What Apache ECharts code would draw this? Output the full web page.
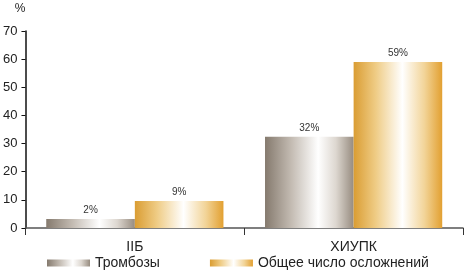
<!DOCTYPE html>
<html><head><meta charset="utf-8">
<script src="https://cdn.jsdelivr.net/npm/echarts@6/dist/echarts.min.js"></script>
<style>html,body{margin:0;padding:0;background:#fff}#c{width:469px;height:273px}</style>
</head><body><div id="c"></div>
<script>
const categories = ['IIБ', 'ХИУПК'];
const seriesNames = ['Тромбозы', 'Общее число осложнений'];
const thrombosis = [3.2, 32.4];
const totalComplications = [9.6, 59];
const thrombosisLabels = ['2%', '32%'];
const totalLabels = ['9%', '59%'];
const yTicks = [0, 10, 20, 30, 40, 50, 60, 70];

const FONT = '"Liberation Sans", Arial, sans-serif';
function grad(stops) {
  return new echarts.graphic.LinearGradient(0, 0, 1, 0, stops.map(c => ({offset: c[0], color: c[1]})));
}
const grayGrad = grad([[0, '#857a6e'], [0.3, '#c4bcb3'], [0.6, '#ffffff'], [0.8, '#ddd7d0'], [1, '#978c80']]);
const goldGrad = grad([[0, '#da9d33'], [0.25, '#efcc85'], [0.55, '#ffffff'], [0.8, '#f2d498'], [1, '#e2a031']]);

const chart = echarts.init(document.getElementById('c'));
chart.setOption({
  animation: false,
  grid: {left: 24, right: 6, top: 31, bottom: 45},
  legend: {
    top: 256, left: 47, padding: 0, itemWidth: 43, itemHeight: 7, itemGap: 50,
    icon: 'rect',
    textStyle: {fontFamily: FONT, fontSize: 14, color: '#222', padding: [0, 0, 0, 0]},
    data: seriesNames
  },
  xAxis: {
    type: 'category', data: categories,
    axisLine: {lineStyle: {color: '#555', width: 1.5}},
    axisTick: {show: true, length: 7, lineStyle: {color: '#333'}},
    axisLabel: {fontFamily: FONT, fontSize: 14, color: '#222', margin: 12}
  },
  yAxis: {
    type: 'value', min: yTicks[0], max: yTicks[yTicks.length - 1], interval: 10,
    name: '%', nameGap: 16,
    nameTextStyle: {fontFamily: FONT, fontSize: 12, color: '#222', align: 'right'},
    axisLine: {show: true, lineStyle: {color: '#111', width: 1.5}},
    axisTick: {show: true, length: 4, lineStyle: {color: '#111'}},
    splitLine: {show: false},
    axisLabel: {fontFamily: FONT, fontSize: 13, color: '#222', margin: 8}
  },
  series: [
    {
      name: seriesNames[0], type: 'bar', data: thrombosis,
      barGap: '0%', barCategoryGap: '19%',
      itemStyle: {color: grayGrad},
      label: {show: true, position: 'top', distance: 4, fontFamily: FONT, fontSize: 10, color: '#333',
        formatter: p => thrombosisLabels[p.dataIndex]}
    },
    {
      name: seriesNames[1], type: 'bar', data: totalComplications,
      itemStyle: {color: goldGrad},
      label: {show: true, position: 'top', distance: 4, fontFamily: FONT, fontSize: 10, color: '#333',
        formatter: p => totalLabels[p.dataIndex]}
    }
  ]
});
</script></body></html>
